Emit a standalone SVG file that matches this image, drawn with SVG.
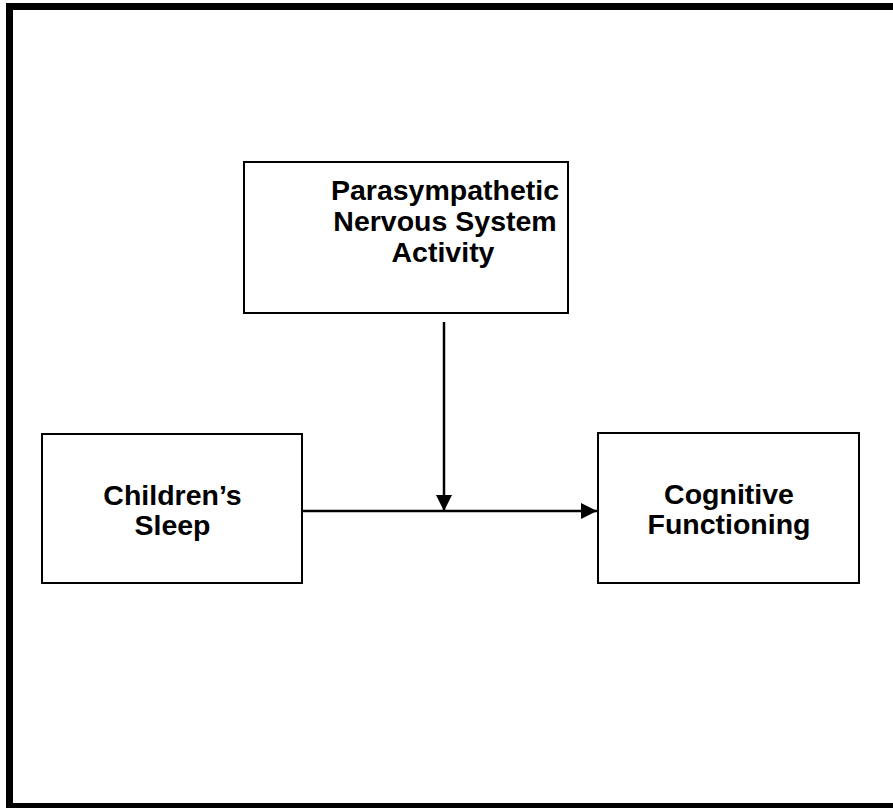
<svg xmlns="http://www.w3.org/2000/svg" width="893" height="808" viewBox="0 0 893 808">
  <style>
    .box { fill: #ffffff; stroke: #000000; stroke-width: 2; }
    .lbl { font-family: "Liberation Sans", Arial, sans-serif; font-weight: bold; font-size: 28.5px; fill: #000000; text-anchor: middle; }
    .conn { stroke: #000000; stroke-width: 2.5; fill: none; }
  </style>
  <defs>
    <marker id="arrow" markerUnits="userSpaceOnUse" markerWidth="16" markerHeight="16" refX="16" refY="8" orient="auto">
      <path d="M0,0 L16,8 L0,16 Z" fill="#000000"/>
    </marker>
  </defs>
  <rect x="0" y="0" width="893" height="808" fill="#ffffff"/>
  <rect id="frame" x="9.5" y="6.5" width="890" height="800" fill="none" stroke="#000000" stroke-width="7"/>

  <g id="pns">
    <rect class="box" x="244" y="162" width="324" height="151"/>
    <text class="lbl" x="445" y="200">Parasympathetic</text>
    <text class="lbl" x="445" y="231">Nervous System</text>
    <text class="lbl" x="443" y="262">Activity</text>
  </g>

  <g id="sleep">
    <rect class="box" x="42" y="434" width="260" height="149"/>
    <text class="lbl" x="172.5" y="505">Children’s</text>
    <text class="lbl" x="172.5" y="535">Sleep</text>
  </g>

  <g id="cognitive">
    <rect class="box" x="598" y="433" width="261" height="150"/>
    <text class="lbl" x="729" y="504">Cognitive</text>
    <text class="lbl" x="729" y="534">Functioning</text>
  </g>

  <g id="connectors">
    <line class="conn" x1="302" y1="511" x2="597" y2="511" marker-end="url(#arrow)"/>
    <line class="conn" x1="444" y1="322" x2="444" y2="511" marker-end="url(#arrow)"/>
  </g>
</svg>
